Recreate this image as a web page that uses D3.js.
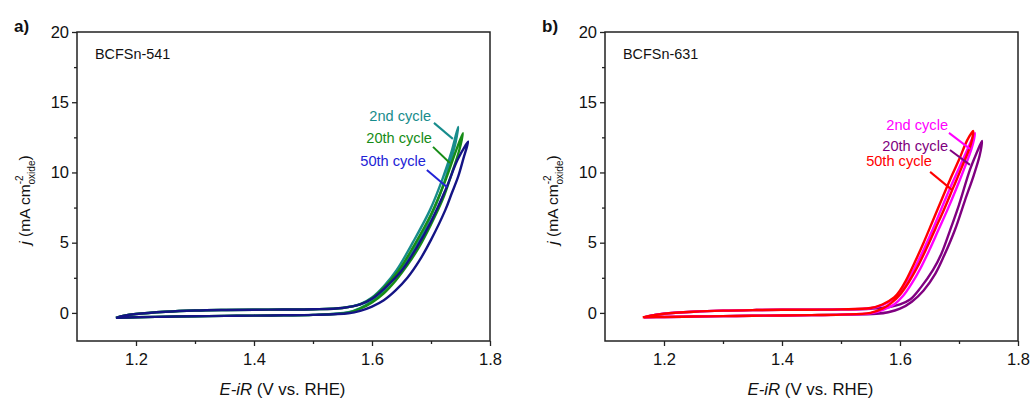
<!DOCTYPE html>
<html>
<head>
<meta charset="utf-8">
<script src="https://cdn.jsdelivr.net/npm/d3@7"></script>
<style>
  body { margin: 0; background: #fff; }
  text { font-family: "Liberation Sans", Arial, sans-serif; fill: #111; }
</style>
</head>
<body>
<svg id="chart" width="1032" height="399"></svg>
<script>
// axis ticks
const xTicks = [1.2, 1.4, 1.6, 1.8];
const xMinor = [1.3, 1.5, 1.7];
const yTicks = [0, 5, 10, 15, 20];
const yMinor = [2.5, 7.5, 12.5, 17.5];

const cycleNames = ['2nd cycle', '20th cycle', '50th cycle'];

// panel a) BCFSn-541, each cycle = forward scan then reverse scan
const a2V = [1.166, 1.18, 1.2, 1.25, 1.3, 1.35, 1.4, 1.45, 1.5, 1.55, 1.58,
             1.6, 1.62, 1.642, 1.669, 1.698, 1.72, 1.735, 1.746,
             1.742, 1.73, 1.715, 1.7, 1.68, 1.66, 1.64, 1.62, 1.6, 1.58, 1.56,
             1.5, 1.45, 1.4, 1.35, 1.3, 1.25, 1.2, 1.166];
const a2J = [-0.35, -0.2, -0.08, 0.08, 0.17, 0.21, 0.23, 0.24, 0.26, 0.36, 0.62,
             1.1, 1.9, 3.06, 5.0, 7.3, 9.6, 11.5, 13.25,
             12.2, 10.3, 8.4, 6.9, 5.2, 3.8, 2.6, 1.6, 0.85, 0.35, 0.05,
             -0.14, -0.17, -0.19, -0.21, -0.24, -0.27, -0.31, -0.35];
const a20V = [1.166, 1.18, 1.2, 1.25, 1.3, 1.35, 1.4, 1.45, 1.5, 1.55, 1.58,
              1.6, 1.62, 1.645, 1.67, 1.7, 1.725, 1.742, 1.754,
              1.748, 1.735, 1.72, 1.7, 1.68, 1.66, 1.64, 1.62, 1.6, 1.58, 1.56,
              1.5, 1.45, 1.4, 1.35, 1.3, 1.25, 1.2, 1.166];
const a20J = [-0.35, -0.2, -0.08, 0.08, 0.17, 0.21, 0.23, 0.24, 0.26, 0.35, 0.6,
              1.05, 1.8, 3.0, 4.7, 7.0, 9.5, 11.5, 12.8,
              11.6, 9.9, 8.1, 6.3, 4.7, 3.4, 2.3, 1.4, 0.75, 0.3, 0.02,
              -0.14, -0.17, -0.19, -0.21, -0.24, -0.27, -0.31, -0.35];
const a50V = [1.166, 1.18, 1.2, 1.25, 1.3, 1.35, 1.4, 1.45, 1.5, 1.55, 1.58,
              1.6, 1.62, 1.65, 1.675, 1.7, 1.725, 1.745, 1.758, 1.763,
              1.755, 1.746, 1.735, 1.724, 1.7, 1.68, 1.66, 1.64, 1.62, 1.6, 1.58, 1.56,
              1.5, 1.45, 1.4, 1.35, 1.3, 1.25, 1.2, 1.166];
const a50J = [-0.35, -0.2, -0.08, 0.08, 0.17, 0.21, 0.23, 0.24, 0.26, 0.35, 0.6,
              1.0, 1.7, 3.0, 4.6, 6.5, 8.8, 10.9, 11.9, 12.2,
              11.0, 9.7, 8.5, 7.3, 5.2, 3.7, 2.5, 1.6, 0.9, 0.45, 0.15, -0.02,
              -0.14, -0.17, -0.19, -0.21, -0.24, -0.27, -0.31, -0.35];

// panel b) BCFSn-631
const b2V = [1.166, 1.18, 1.2, 1.25, 1.3, 1.35, 1.4, 1.45, 1.5,
             1.55, 1.57, 1.59, 1.6, 1.61, 1.625, 1.64, 1.656, 1.67, 1.685, 1.7, 1.715, 1.727,
             1.722, 1.71, 1.695, 1.68, 1.665, 1.65, 1.635, 1.62, 1.605, 1.59, 1.57, 1.55,
             1.5, 1.45, 1.4, 1.35, 1.3, 1.25, 1.2, 1.166];
const b2J = [-0.32, -0.18, -0.06, 0.08, 0.16, 0.2, 0.22, 0.23, 0.25,
             0.33, 0.55, 1.0, 1.4, 2.0, 3.2, 4.5, 6.0, 7.4, 8.9, 10.3, 11.7, 12.8,
             11.8, 10.4, 8.8, 7.3, 5.9, 4.5, 3.2, 2.1, 1.2, 0.6, 0.2, -0.02,
             -0.12, -0.16, -0.18, -0.2, -0.23, -0.26, -0.29, -0.32];
const b20V = [1.166, 1.18, 1.2, 1.25, 1.3, 1.35, 1.4, 1.45, 1.5,
              1.55, 1.58, 1.6, 1.617, 1.635, 1.656, 1.67, 1.685, 1.7, 1.7186, 1.73, 1.739,
              1.735, 1.725, 1.71, 1.693, 1.675, 1.66, 1.64, 1.62, 1.6, 1.58, 1.56,
              1.5, 1.45, 1.4, 1.35, 1.3, 1.25, 1.2, 1.166];
const b20J = [-0.32, -0.18, -0.06, 0.08, 0.16, 0.2, 0.22, 0.23, 0.25,
              0.3, 0.4, 0.6, 0.95, 1.8, 3.06, 4.2, 5.9, 7.7, 10.2, 11.4, 12.25,
              11.2, 9.8, 8.0, 5.9, 4.1, 2.8, 1.6, 0.8, 0.3, 0.05, -0.06,
              -0.12, -0.16, -0.18, -0.2, -0.23, -0.26, -0.29, -0.32];
const b50V = [1.164, 1.18, 1.2, 1.25, 1.3, 1.35, 1.4, 1.45, 1.5,
              1.55, 1.57, 1.59, 1.6, 1.61, 1.625, 1.64, 1.656, 1.67, 1.685, 1.7, 1.714, 1.724,
              1.72, 1.705, 1.69, 1.675, 1.66, 1.645, 1.63, 1.615, 1.6, 1.585, 1.57, 1.55,
              1.5, 1.45, 1.4, 1.35, 1.3, 1.25, 1.2, 1.164];
const b50J = [-0.32, -0.18, -0.06, 0.08, 0.16, 0.2, 0.22, 0.23, 0.25,
              0.35, 0.6, 1.1, 1.6, 2.3, 3.6, 5.0, 6.6, 8.0, 9.5, 10.9, 12.3, 12.95,
              12.0, 10.4, 8.9, 7.4, 6.0, 4.6, 3.3, 2.2, 1.3, 0.7, 0.3, 0.0,
              -0.12, -0.16, -0.18, -0.2, -0.23, -0.26, -0.29, -0.32];

const panels = [
  {
    tag: 'a)', name: 'BCFSn-541', left: 77,
    series: [[a2V, a2J], [a20V, a20J], [a50V, a50J]],
    lineColors: ['#178c8c', '#168c16', '#141485'],
    textColors: ['#178c8c', '#168c16', '#2222d6'],
    // label anchor (right end, baseline) and leader start/end, in data units
    labels: [
      { tx: 1.700, ty: 13.67, x1: 1.705, y1: 13.53, x2: 1.737, y2: 12.39 },
      { tx: 1.7017, ty: 12.10, x1: 1.7034, y1: 11.82, x2: 1.732, y2: 10.68 },
      { tx: 1.6915, ty: 10.47, x1: 1.693, y1: 10.18, x2: 1.727, y2: 8.97 }
    ],
    drawOrder: [0, 1, 2]
  },
  {
    tag: 'b)', name: 'BCFSn-631', left: 605,
    series: [[b2V, b2J], [b20V, b20J], [b50V, b50J]],
    lineColors: ['#ff00ff', '#800080', '#ff0000'],
    textColors: ['#ff00ff', '#800080', '#ff0000'],
    labels: [
      { tx: 1.6814, ty: 13.03, x1: 1.683, y1: 12.82, x2: 1.7186, y2: 11.68 },
      { tx: 1.6814, ty: 11.53, x1: 1.6847, y1: 11.6, x2: 1.7186, y2: 10.54 },
      { tx: 1.654, ty: 10.47, x1: 1.651, y1: 10.04, x2: 1.688, y2: 8.76 }
    ],
    drawOrder: [1, 0, 2]
  }
];

const plotTop = 32, plotW = 413, plotH = 309;
const svg = d3.select('#chart');

const x = d3.scaleLinear().domain([1.1, 1.8]).range([0, plotW]);
const y = d3.scaleLinear().domain([-2, 20]).range([plotH, 0]);

const line = d3.line()
  .x(d => x(d[0]))
  .y(d => y(d[1]))
  .curve(d3.curveCatmullRom.alpha(0.5));

panels.forEach(p => {
  const g = svg.append('g').attr('transform', 'translate(' + p.left + ',' + plotTop + ')');

  // curves
  p.drawOrder.forEach(i => {
    const [vs, js] = p.series[i];
    const pts = vs.map((v, k) => [v, js[k]]);
    g.append('path')
      .attr('d', line(pts))
      .attr('fill', 'none')
      .attr('stroke', p.lineColors[i])
      .attr('stroke-width', 2.4)
      .attr('stroke-linejoin', 'round');
  });

  // frame
  g.append('rect')
    .attr('width', plotW).attr('height', plotH)
    .attr('fill', 'none').attr('stroke', '#222').attr('stroke-width', 1.5);

  // axes
  g.append('g').attr('transform', 'translate(0,' + plotH + ')')
    .call(d3.axisBottom(x).tickValues(xTicks).tickFormat(d3.format('.1f')).tickSize(5).tickPadding(7));
  g.append('g').attr('transform', 'translate(0,' + plotH + ')')
    .call(d3.axisBottom(x).tickValues(xMinor).tickFormat('').tickSize(3));
  g.append('g')
    .call(d3.axisLeft(y).tickValues(yTicks).tickSize(5).tickPadding(3));
  g.append('g')
    .call(d3.axisLeft(y).tickValues(yMinor).tickFormat('').tickSize(3));

  g.selectAll('.domain').remove();
  g.selectAll('.tick line').attr('stroke', '#222').attr('stroke-width', 1.3);
  g.selectAll('.tick text').attr('font-size', 16.5).attr('fill', '#111')
    .attr('font-family', '"Liberation Sans", Arial, sans-serif');

  // sample name
  g.append('text').attr('x', 18).attr('y', 27).attr('font-size', 14.4).text(p.name);

  // panel tag
  svg.append('text').attr('x', p.left - 63).attr('y', 32)
    .attr('font-size', 17).attr('font-weight', 'bold').text(p.tag);

  // cycle labels with leader lines
  p.labels.forEach((l, i) => {
    g.append('text')
      .attr('x', x(l.tx)).attr('y', y(l.ty))
      .attr('text-anchor', 'end').attr('font-size', 14.6)
      .style('fill', p.textColors[i])
      .text(cycleNames[i]);
    g.append('line')
      .attr('x1', x(l.x1)).attr('y1', y(l.y1))
      .attr('x2', x(l.x2)).attr('y2', y(l.y2))
      .attr('stroke', p.textColors[i]).attr('stroke-width', 2);
  });

  // x label
  const xl = g.append('text')
    .attr('x', plotW / 2 - 1).attr('y', plotH + 54)
    .attr('text-anchor', 'middle').attr('font-size', 16.8);
  xl.append('tspan').attr('font-style', 'italic').text('E-iR');
  xl.append('tspan').text(' (V vs. RHE)');

  // y label
  const yl = g.append('text')
    .attr('transform', 'translate(' + (-47) + ',' + (168) + ') rotate(-90)')
    .attr('text-anchor', 'middle').attr('font-size', 15.5);
  yl.append('tspan').attr('font-style', 'italic').text('j');
  yl.append('tspan').text(' (mA cm');
  yl.append('tspan').attr('font-size', 10).attr('dy', -7).text('-2');
  yl.append('tspan').attr('font-size', 10).attr('dx', -9).attr('dy', 12).text('oxide');
  yl.append('tspan').attr('dy', -5).text(')');
});
</script>
</body>
</html>
